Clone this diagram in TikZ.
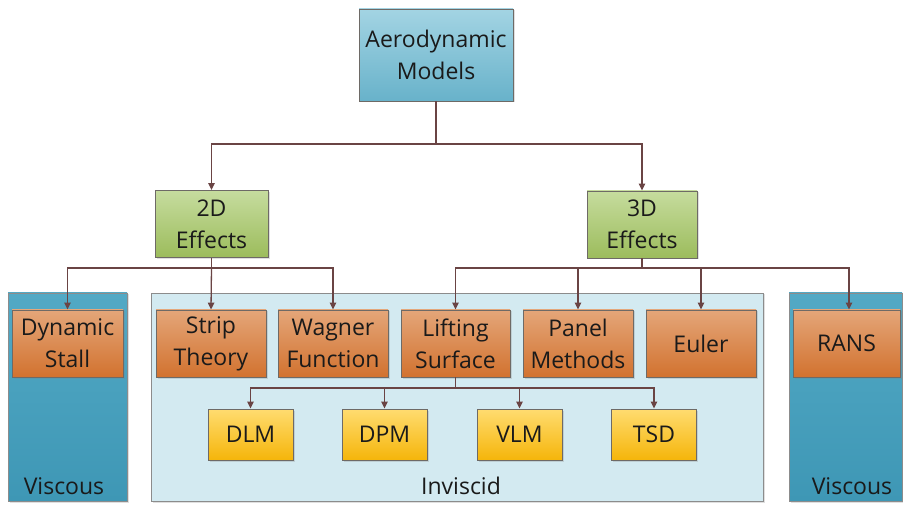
\documentclass[tikz,border=0pt]{standalone}
\usepackage{fontspec}
\setmainfont{Open Sans}
\usetikzlibrary{arrows.meta,shadows}

\definecolor{linkcol}{HTML}{6A4444}
\definecolor{edgecol}{HTML}{6E6A66}
\definecolor{paneledge}{HTML}{8C8C8C}
\definecolor{topA}{HTML}{A3D4E3}
\definecolor{topB}{HTML}{68B2CA}
\definecolor{viscA}{HTML}{52A9C5}
\definecolor{viscB}{HTML}{3E97B5}
\definecolor{invisc}{HTML}{D3EAF1}
\definecolor{greenA}{HTML}{C6DC9E}
\definecolor{greenB}{HTML}{9CBC5C}
\definecolor{orangeA}{HTML}{E4A679}
\definecolor{orangeB}{HTML}{D2722F}
\definecolor{yellowA}{HTML}{FFDC70}
\definecolor{yellowB}{HTML}{F5B50A}
\definecolor{txt}{HTML}{1A1A1A}

\tikzset{
  box/.style={draw=edgecol, line width=0.9pt, rectangle, align=center,
    text=txt, font=\fontsize{23}{32}\selectfont, inner sep=0pt,
    drop shadow={shadow xshift=1.5pt, shadow yshift=-1.5pt, opacity=0.25}},
  topbox/.style={box, top color=topA, bottom color=topB,
    minimum width=154pt, minimum height=92pt},
  effbox/.style={box, top color=greenA, bottom color=greenB,
    minimum height=67pt},
  modbox/.style={box, top color=orangeA, bottom color=orangeB,
    minimum width=110pt, minimum height=67pt},
  subbox/.style={box, top color=yellowA, bottom color=yellowB,
    minimum width=85pt, minimum height=51pt},
  viscpanel/.style={draw=paneledge, line width=0.9pt, top color=viscA, bottom color=viscB,
    drop shadow={shadow xshift=1.5pt, shadow yshift=-1.5pt, opacity=0.25}},
  invpanel/.style={draw=paneledge, line width=0.9pt, fill=invisc,
    drop shadow={shadow xshift=1.5pt, shadow yshift=-1.5pt, opacity=0.25}},
  panellabel/.style={anchor=base, text=txt, font=\fontsize{23}{32}\selectfont, inner sep=0pt},
  link/.style={draw=linkcol, line width=1.3pt},
  arrowlink/.style={link, -{Triangle[length=7pt,width=6.5pt]}},
}

\begin{document}
\begin{tikzpicture}[x=1pt, y=-1pt]
  \useasboundingbox (0,0) rectangle (903,505);

  % background panels
  \path[viscpanel] (8,293) rectangle (127,501);
  \path[invpanel] (151,293) rectangle (763,501);
  \path[viscpanel] (789,293) rectangle (902,501);
  \node[panellabel] (lblvl) at (64,494) {Viscous};
  \node[panellabel] (lblinv) at (461,494) {Inviscid};
  \node[panellabel] (lblvr) at (852,494) {Viscous};

  % root
  \node[topbox] (root) at (436,55) {Aerodynamic\\Models};

  % effect classes
  \node[effbox, minimum width=113pt] (twod) at (211.5,224) {2D\\Effects};
  \node[effbox, minimum width=110pt] (threed) at (642,224.5) {3D\\Effects};

  % model families
  \node[modbox, minimum width=111pt] (dstall) at (67.5,343.5) {Dynamic\\Stall};
  \node[modbox] (strip) at (211,343.5) {Strip\\Theory};
  \node[modbox] (wagner) at (333,343.5) {Wagner\\Function};
  \node[modbox, minimum width=109pt] (lifting) at (455.5,343.5) {Lifting\\Surface};
  \node[modbox] (panel) at (578,343.5) {Panel\\Methods};
  \node[modbox] (euler) at (701,343.5) {Euler};
  \node[modbox, minimum width=107pt] (rans) at (846.5,343.5) {RANS};

  % lifting-surface methods
  \node[subbox] (dlm) at (250.5,434.5) {DLM};
  \node[subbox] (dpm) at (384.5,434.5) {DPM};
  \node[subbox] (vlm) at (519.5,434.5) {VLM};
  \node[subbox] (tsd) at (654,434.5) {TSD};

  % bus junctions
  \coordinate (busroot) at (436,144);
  \coordinate (bustwo) at (211.5,268);
  \coordinate (busthree) at (642,268);
  \coordinate (buslift) at (455.5,388);

  % root -> effects
  \draw[link] (root.south) -- (busroot);
  \draw[arrowlink] (busroot) -| (twod.north);
  \draw[arrowlink] (busroot) -| (threed.north);

  % 2D effects -> models
  \draw[link] (twod.south) -- (bustwo);
  \draw[arrowlink] (bustwo) -| (dstall.north);
  \draw[arrowlink] (bustwo) -- (strip.north);
  \draw[arrowlink] (bustwo) -| (wagner.north);

  % 3D effects -> models
  \draw[link] (threed.south) -- (busthree);
  \draw[arrowlink] (busthree) -| (lifting.north);
  \draw[arrowlink] (busthree) -| (panel.north);
  \draw[arrowlink] (busthree) -| (euler.north);
  \draw[arrowlink] (busthree) -| ([xshift=2.5pt]rans.north);

  % lifting surface -> methods
  \draw[link] (lifting.south) -- (buslift);
  \draw[arrowlink] (buslift) -| (dlm.north);
  \draw[arrowlink] (buslift) -| (dpm.north);
  \draw[arrowlink] (buslift) -| (vlm.north);
  \draw[arrowlink] (buslift) -| (tsd.north);
\end{tikzpicture}
\end{document}
